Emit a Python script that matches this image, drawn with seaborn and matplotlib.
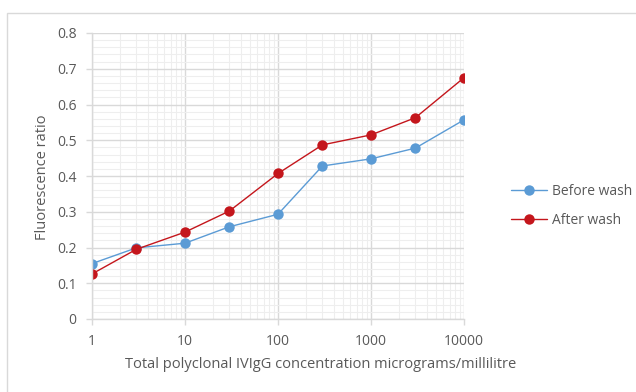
import numpy as np
import pandas as pd
import matplotlib
matplotlib.use("Agg")
import matplotlib.pyplot as plt
import seaborn as sns
from matplotlib.ticker import LogLocator, FixedLocator, FixedFormatter, MultipleLocator
from matplotlib.patches import Rectangle

# IVIgG concentration (micrograms/millilitre)
concentration = [1, 3, 10, 30, 100, 300, 1000, 3000, 10000]
before_wash = [0.155, 0.199, 0.212, 0.258, 0.293, 0.428, 0.448, 0.478, 0.557]
after_wash = [0.126, 0.195, 0.243, 0.302, 0.407, 0.487, 0.515, 0.563, 0.675]
series_names = ["Before wash", "After wash"]
x_tick_values = [1, 10, 100, 1000, 10000]
x_tick_labels = ["1", "10", "100", "1000", "10000"]
y_tick_values = [0, 0.1, 0.2, 0.3, 0.4, 0.5, 0.6, 0.7, 0.8]
y_tick_labels = ["0", "0.1", "0.2", "0.3", "0.4", "0.5", "0.6", "0.7", "0.8"]

df = pd.DataFrame({
    "conc": concentration * 2,
    "ratio": before_wash + after_wash,
    "series": [series_names[0]] * len(concentration) + [series_names[1]] * len(concentration),
})

sns.set_theme(style="white")
plt.rcParams["font.family"] = ["Open Sans", "DejaVu Sans"]
text_color = "#595959"
palette = {"Before wash": "#5B9BD5", "After wash": "#C4161C"}
marker_size = 7.5

fig = plt.figure(figsize=(6.36, 3.92), dpi=100)
W, H = 636, 392

# chart frame
fig.patches.append(Rectangle((7 / W, -0.1), 1.0, 1 - 13 / H + 0.1, transform=fig.transFigure,
                             fill=False, edgecolor="#D9D9D9", linewidth=1.0))

ax = fig.add_axes([92 / W, 1 - 319 / H, 372 / W, 286 / H])

sns.lineplot(data=df, x="conc", y="ratio", hue="series", palette=palette,
             marker="o", markersize=marker_size, markeredgewidth=0, linewidth=1.0,
             ax=ax, legend=False)

ax.set_xscale("log")
ax.set_xlim(1, 10000)
ax.set_ylim(0, 0.8)

ax.xaxis.set_major_locator(FixedLocator(x_tick_values))
ax.xaxis.set_major_formatter(FixedFormatter(x_tick_labels))
ax.xaxis.set_minor_locator(LogLocator(base=10, subs=np.arange(2, 10), numticks=20))
ax.yaxis.set_major_locator(FixedLocator(y_tick_values))
ax.yaxis.set_major_formatter(FixedFormatter(y_tick_labels))
ax.yaxis.set_minor_locator(MultipleLocator(0.02))

ax.grid(which="major", color="#D9D9D9", linewidth=1.0)
ax.grid(which="minor", color="#EEEEEE", linewidth=0.8)
ax.set_axisbelow(True)

for side in ["top", "right"]:
    ax.spines[side].set_visible(False)
for side in ["left", "bottom"]:
    ax.spines[side].set_color("#D9D9D9")
    ax.spines[side].set_linewidth(1.0)

ax.tick_params(axis="both", which="major", length=4, width=1.0, color="#D9D9D9",
               labelsize=10, labelcolor=text_color, direction="out", left=True, bottom=True)
ax.tick_params(axis="x", which="major", pad=7)
ax.tick_params(axis="y", which="major", pad=7)
ax.tick_params(axis="both", which="minor", length=0)

ax.set_xlabel("")
ax.set_ylabel("")
fig.text(321 / W, 1 - 365 / H, "Total polyclonal IVIgG concentration micrograms/millilitre",
         ha="center", va="center", fontsize=10.5, color=text_color)
fig.text(42 / W, 1 - 177 / H, "Fluorescence ratio", rotation=90,
         ha="center", va="center", fontsize=10.5, color=text_color)

handles = [plt.Line2D([], [], color=palette[n], marker="o", markersize=marker_size,
                      markeredgewidth=0, linewidth=1.0) for n in series_names]
leg = fig.legend(handles, series_names, loc="upper left",
                 bbox_to_anchor=(498 / W, 1 - 171 / H), frameon=False,
                 fontsize=10, labelcolor=text_color, handlelength=2.6,
                 handletextpad=0.4, labelspacing=1.05)

fig.savefig("out.png", dpi=100)
